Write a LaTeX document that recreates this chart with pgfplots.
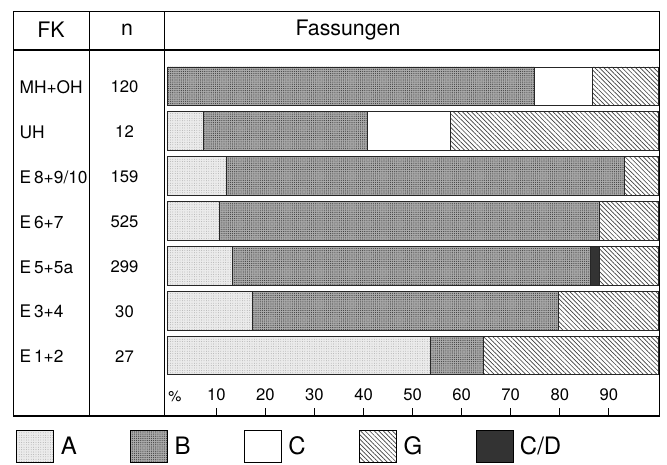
\documentclass[border=0pt]{standalone}
\usepackage{fontspec}
\setmainfont{TeX Gyre Heros}
\usepackage{pgfplots}
\usepackage{pgfplotstable}
\pgfplotsset{compat=1.18}
\usetikzlibrary{patterns,patterns.meta}

\pgfplotstableread{
y A B C CD G
0 53.6 10.9 0 0 35.5
1 17.4 62.3 0 0 20.3
2 13.3 72.9 0 1.8 12.0
3 10.7 77.3 0 0 12.0
4 12.1 81.0 0 0 6.9
5 7.4 33.4 16.9 0 42.3
6 0 74.9 11.7 0 13.4
}\data

\tikzset{
 pA/.style={fill=black!8, postaction={pattern={Dots[distance=1.8pt, radius=0.3pt]}, pattern color=black!40}},
 pB/.style={fill=black!33, postaction={pattern={Dots[distance=1.6pt, radius=0.45pt]}, pattern color=black!75}},
 pC/.style={fill=white},
 pG/.style={fill=white, postaction={pattern={Lines[angle=-45,distance=2.4pt,line width=0.5pt]}, pattern color=black!75}},
 pCD/.style={fill=black!80},
}

\begin{document}
\begin{tikzpicture}
\begin{scope}[x=0.75pt,y=-0.75pt]
\path[use as bounding box] (0,0) rectangle (667,464);
\end{scope}
\begin{axis}[
 at={(123.375pt,-312pt)}, anchor=south west,
 scale only axis, width=370.7pt, height=274.5pt,
 xmin=-0.57, xmax=100.18, ymin=-1.347, ymax=6.804,
 xbar stacked, bar width=0.857,
 axis line style={draw=none},
 ytick=\empty,
 xtick={10,20,...,90},
 xtick pos=bottom,
 tick align=inside, major tick length=6pt,
 tick style={black, line width=0.7pt},
 xticklabel style={anchor=center, yshift=15.75pt, font=\fontsize{12.5}{13}\selectfont},
 /pgf/number format/assume math mode=true,
 every axis plot/.append style={draw=black!85, line width=0.5pt},
 legend image code/.code={\draw[#1, draw=black, line width=0.6pt] (0pt,-12pt) rectangle (27.75pt,12pt);},
 legend columns=5,
 legend cell align=left,
 legend style={at={(axis description cs:-0.3004,-0.0383)}, anchor=north west, draw=none, fill=none, inner sep=0pt,
   font=\fontsize{18}{20}\selectfont,
   /tikz/every even column/.append style={column sep=37pt},
   /tikz/every odd column/.append style={column sep=2pt},
   nodes={inner sep=3pt}},
]
\addplot[pA, forget plot] table[x=A, y=y] {\data};
\addplot[pB, forget plot] table[x=B, y=y] {\data};
\addplot[pC, forget plot] table[x=C, y=y] {\data};
\addplot[pCD, forget plot] table[x=CD, y=y] {\data};
\addplot[pG, forget plot] table[x=G, y=y] {\data};
\addlegendimage{pA}\addlegendentry{A}
\addlegendimage{pB}\addlegendentry{B}
\addlegendimage{pC}\addlegendentry{C}
\addlegendimage{pG}\addlegendentry{G}
\addlegendimage{pCD}\addlegendentry{C/D}
\end{axis}
\begin{scope}[x=0.75pt,y=-0.75pt,line width=1pt]
\draw (13.5,11.7) rectangle (659.3,416);
\draw (13.5,50) -- (659.3,50);
\draw (89.3,11.7) -- (89.3,416);
\draw (164.5,11.7) -- (164.5,416);
\node[font=\fontsize{16}{17}\selectfont] at (51,30) {FK};
\node[font=\fontsize{16}{17}\selectfont] at (127,30) {n};
\node[font=\fontsize{16}{17}\selectfont] at (348,30) {Fassungen};
\begin{scope}[every node/.style={font=\fontsize{13}{14}\selectfont, anchor=west, inner sep=0pt}]
\node at (19,87) {MH+OH};
\node at (19,132) {UH};
\node at (19,177) {E\,8+9/10};
\node at (19,222) {E\,6+7};
\node at (19,267) {E\,5+5a};
\node at (19,311.5) {E\,3+4};
\node at (19,356.5) {E\,1+2};
\end{scope}
\begin{scope}[every node/.style={font=\fontsize{12.5}{13}\selectfont, inner sep=0pt}]
\node at (124.5,87) {120};
\node at (124.5,132) {12};
\node at (124.5,177) {159};
\node at (124.5,222) {525};
\node at (124.5,267) {299};
\node at (124.5,311.5) {30};
\node at (124.5,356.5) {27};
\end{scope}
\node[font=\fontsize{11}{12}\selectfont, inner sep=0pt] at (175,396) {\%};
\end{scope}
\end{tikzpicture}
\end{document}
